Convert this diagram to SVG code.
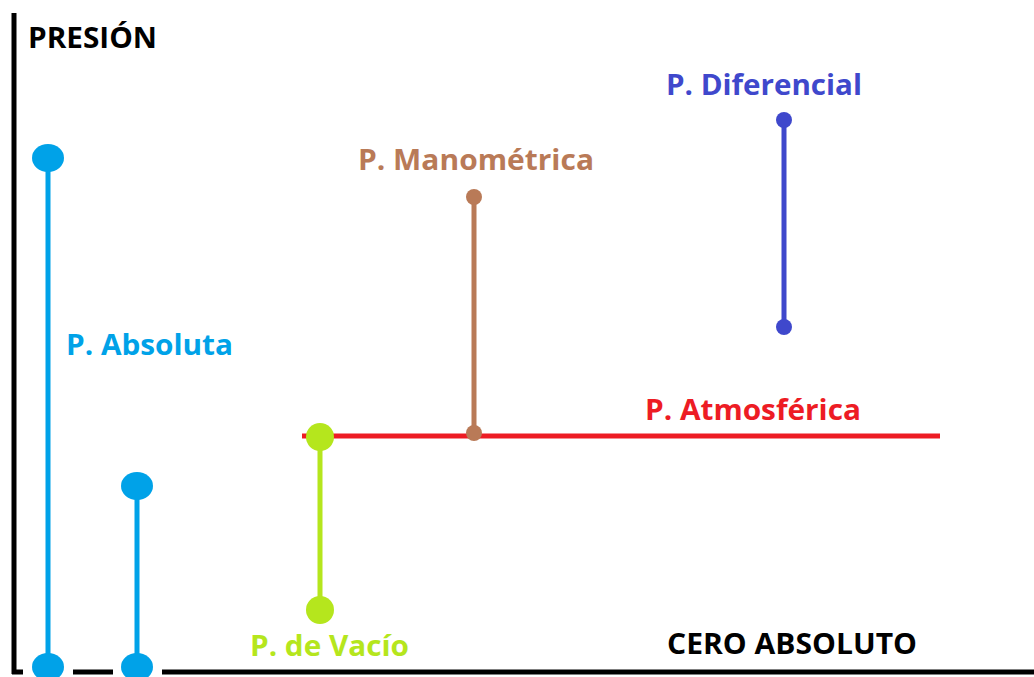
<svg xmlns="http://www.w3.org/2000/svg" width="1034" height="677" viewBox="0 0 1034 677">
<style>
text{font-family:"Open Sans","Liberation Sans",sans-serif;font-weight:bold;font-size:29px}
.ln{fill:none;stroke-width:5}
.gap{fill:#fff}
</style>
<rect width="1034" height="677" fill="#fff"/>
<g id="axes">
<line x1="14" y1="13" x2="14" y2="674" stroke="#000" stroke-width="5"/>
<line x1="12" y1="672" x2="1034" y2="672" stroke="#000" stroke-width="5"/>
<rect class="gap" x="23" y="666" width="50" height="11"/>
<rect class="gap" x="113" y="666" width="49" height="11"/>
<text x="28" y="48" fill="#000" textLength="129" lengthAdjust="spacingAndGlyphs">PRESIÓN</text>
<text x="667" y="654" fill="#000" textLength="250" lengthAdjust="spacingAndGlyphs">CERO ABSOLUTO</text>
</g>
<g id="connectors">
<line class="ln" x1="48" y1="158" x2="48" y2="667" stroke="#00a2e8" stroke-width="6"/>
<line class="ln" x1="137" y1="486" x2="137" y2="667" stroke="#00a2e8"/>
<line class="ln" x1="302" y1="436" x2="940" y2="436" stroke="#ed1c24"/>
<line class="ln" x1="320" y1="437" x2="320" y2="610" stroke="#b5e61d"/>
<line class="ln" x1="474" y1="197" x2="474" y2="433" stroke="#b97a57"/>
<line class="ln" x1="784" y1="120" x2="784" y2="327" stroke="#3f48cc"/>
</g>
<g id="absoluta">
<ellipse cx="48" cy="158" rx="16" ry="14" fill="#00a2e8"/>
<ellipse cx="48" cy="667" rx="16" ry="14" fill="#00a2e8"/>
<ellipse cx="137" cy="486" rx="16" ry="14" fill="#00a2e8"/>
<ellipse cx="137" cy="667" rx="16" ry="14" fill="#00a2e8"/>
<text x="66" y="355" fill="#00a2e8" textLength="167" lengthAdjust="spacingAndGlyphs">P. Absoluta</text>
</g>
<g id="vacio">
<circle cx="320" cy="437" r="14" fill="#b5e61d"/>
<circle cx="320" cy="610" r="14" fill="#b5e61d"/>
<text x="250" y="656" fill="#b5e61d" textLength="159" lengthAdjust="spacingAndGlyphs">P. de Vacío</text>
</g>
<g id="atmosferica">
<text x="645" y="420" fill="#ed1c24" textLength="216" lengthAdjust="spacingAndGlyphs">P. Atmosférica</text>
</g>
<g id="manometrica">
<circle cx="474" cy="197" r="8" fill="#b97a57"/>
<circle cx="474" cy="433" r="8" fill="#b97a57"/>
<text x="358" y="170" fill="#b97a57" textLength="236" lengthAdjust="spacingAndGlyphs">P. Manométrica</text>
</g>
<g id="diferencial">
<circle cx="784" cy="120" r="8" fill="#3f48cc"/>
<circle cx="784" cy="327" r="8" fill="#3f48cc"/>
<text x="666" y="95" fill="#3f48cc" textLength="196" lengthAdjust="spacingAndGlyphs">P. Diferencial</text>
</g>
</svg>
